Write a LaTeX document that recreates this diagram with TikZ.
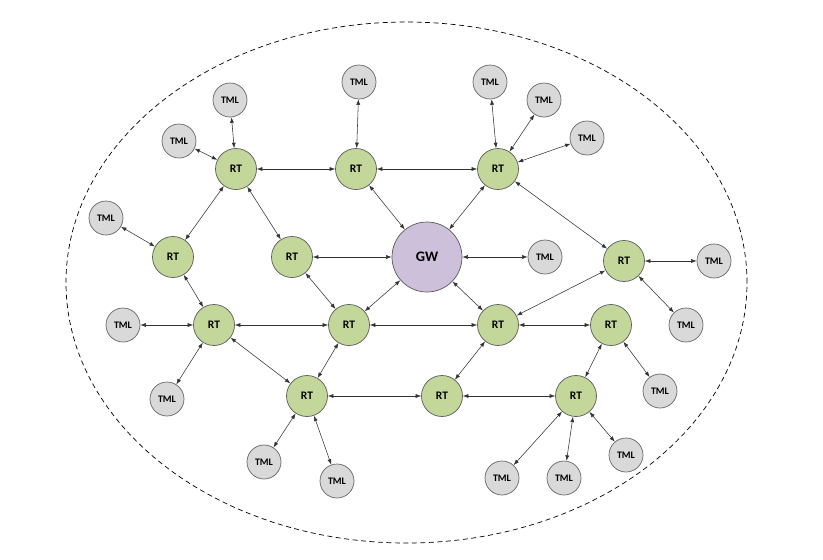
\documentclass[tikz,border=0pt]{standalone}
\usepackage{fontspec}
\setmainfont{Carlito}
\usetikzlibrary{arrows.meta}
\definecolor{rtgreen}{HTML}{C4D79B}
\definecolor{gwpurple}{HTML}{CCC0DA}
\definecolor{tmlgray}{HTML}{D9D9D9}
\begin{document}
\begin{tikzpicture}[x=1pt,y=-1pt,
  rt/.style={circle,draw=black!65,line width=0.7pt,fill=rtgreen,minimum size=41pt,inner sep=0pt,font=\bfseries\fontsize{11.5}{11.5}\selectfont},
  tml/.style={circle,draw=black!60,line width=0.7pt,fill=tmlgray,minimum size=34pt,inner sep=0pt,font=\bfseries\fontsize{10}{10}\selectfont},
  gwnode/.style={circle,draw=black!65,line width=0.7pt,fill=gwpurple,minimum size=70pt,inner sep=0pt,font=\bfseries\fontsize{14.5}{14.5}\selectfont},
  link/.style={{Latex[length=5.5pt,width=4pt]}-{Latex[length=5.5pt,width=4pt]},line width=0.55pt,draw=black!80}]
\useasboundingbox (0,0) rectangle (823,560);
\draw[dashed,line width=0.7pt,dash pattern=on 5pt off 3.5pt] (406.5,282.5) ellipse [x radius=340.5pt, y radius=260.5pt];
% routers and gateway
\node[rt] (r1) at (236,169) {RT};
\node[rt] (r2) at (356,169) {RT};
\node[rt] (r3) at (498,169) {RT};
\node[rt] (r4) at (173,257) {RT};
\node[rt] (r5) at (292,257) {RT};
\node[gwnode] (gw) at (427,257) {GW};
\node[rt] (r6) at (624,261) {RT};
\node[rt] (r7) at (214,325) {RT};
\node[rt] (r8) at (349,325) {RT};
\node[rt] (r9) at (498,325) {RT};
\node[rt] (r10) at (611,325) {RT};
\node[rt] (r11) at (307,396) {RT};
\node[rt] (r12) at (442,396) {RT};
\node[rt] (r13) at (576,396) {RT};
% terminals
\node[tml] (t1) at (230,100) {TML};
\node[tml] (t2) at (179,141) {TML};
\node[tml] (t3) at (359,82) {TML};
\node[tml] (t4) at (490,82) {TML};
\node[tml] (t5) at (544,100) {TML};
\node[tml] (t6) at (587,138) {TML};
\node[tml] (t7) at (106,218) {TML};
\node[tml] (t8) at (545,257) {TML};
\node[tml] (t9) at (714,261) {TML};
\node[tml] (t10) at (686,325) {TML};
\node[tml] (t11) at (123,325) {TML};
\node[tml] (t12) at (167,399) {TML};
\node[tml] (t13) at (660,391) {TML};
\node[tml] (t14) at (264,462) {TML};
\node[tml] (t15) at (337,481) {TML};
\node[tml] (t16) at (502,478) {TML};
\node[tml] (t17) at (564,478) {TML};
\node[tml] (t18) at (626,455) {TML};
% router links
\draw[link] (r1) -- (r2);
\draw[link] (r2) -- (r3);
\draw[link] (r1) -- (r4);
\draw[link] (r1) -- (r5);
\draw[link] (r2) -- (gw);
\draw[link] (r3) -- (gw);
\draw[link] (r3) -- (r6);
\draw[link] (r5) -- (gw);
\draw[link] (r4) -- (r7);
\draw[link] (r5) -- (r8);
\draw[link] (gw) -- (r8);
\draw[link] (gw) -- (r9);
\draw[link] (r7) -- (r8);
\draw[link] (r8) -- (r9);
\draw[link] (r9) -- (r10);
\draw[link] (r6) -- (r9);
\draw[link] (r7) -- (r11);
\draw[link] (r8) -- (r11);
\draw[link] (r9) -- (r12);
\draw[link] (r11) -- (r12);
\draw[link] (r12) -- (r13);
\draw[link] (r10) -- (r13);
% terminal links
\draw[link] (t1) -- (r1);
\draw[link] (t2) -- (r1);
\draw[link] (t3) -- (r2);
\draw[link] (t4) -- (r3);
\draw[link] (t5) -- (r3);
\draw[link] (t6) -- (r3);
\draw[link] (t7) -- (r4);
\draw[link] (t8) -- (gw);
\draw[link] (t9) -- (r6);
\draw[link] (t10) -- (r6);
\draw[link] (t11) -- (r7);
\draw[link] (t12) -- (r7);
\draw[link] (t13) -- (r10);
\draw[link] (t14) -- (r11);
\draw[link] (t15) -- (r11);
\draw[link] (t16) -- (r13);
\draw[link] (t17) -- (r13);
\draw[link] (t18) -- (r13);
\end{tikzpicture}
\end{document}
